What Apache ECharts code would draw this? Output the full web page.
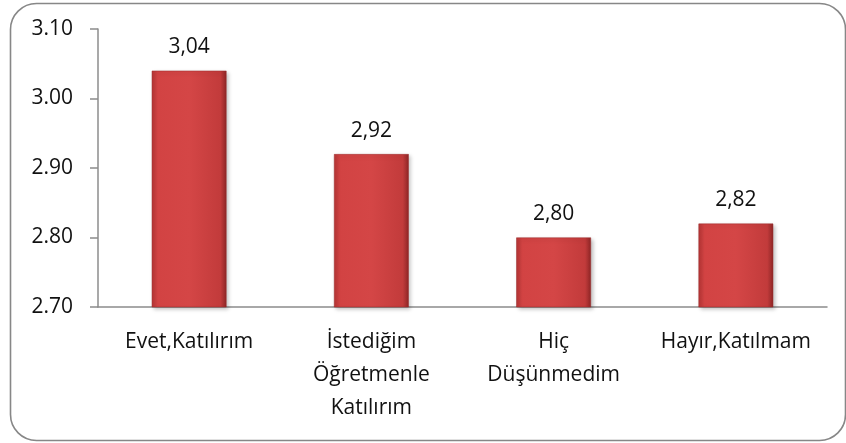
<!DOCTYPE html>
<html><head><meta charset="utf-8">
<script src="https://cdn.jsdelivr.net/npm/echarts@6/dist/echarts.min.js"></script>
<style>html,body{margin:0;padding:0;background:#fff}#c{width:846px;height:443px}</style>
</head><body><div id="c"></div>
<script>
const categories = ['Evet,Katılırım', 'İstediğim\nÖğretmenle\nKatılırım', 'Hiç\nDüşünmedim', 'Hayır,Katılmam'];
const values = [3.04, 2.92, 2.80, 2.82];
const yTicks = [2.70, 2.80, 2.90, 3.00, 3.10];

const chart = echarts.init(document.getElementById('c'));
const font = '"Open Sans", "Liberation Sans", sans-serif';
chart.setOption({
  animation: false,
  graphic: [{
    type: 'rect', left: 8, top: 1,
    shape: { width: 835, height: 437, r: 26 },
    style: { fill: 'none', stroke: '#878787', lineWidth: 1.6 }
  }],
  grid: { left: 98, right: 19, top: 29, bottom: 136 },
  xAxis: {
    type: 'category', data: categories,
    axisLine: { lineStyle: { color: '#8c8c8c', width: 1.5 } },
    axisTick: { length: 7, lineStyle: { color: '#8c8c8c', width: 1.5 } },
    axisLabel: { color: '#111', fontFamily: font, fontSize: 21, lineHeight: 33, margin: 19, interval: 0 }
  },
  yAxis: {
    type: 'value', min: yTicks[0], max: yTicks[yTicks.length - 1], interval: 0.1,
    splitLine: { show: false },
    axisLine: { show: true, lineStyle: { color: '#8c8c8c', width: 1.5 } },
    axisTick: { show: true, length: 8, lineStyle: { color: '#8c8c8c', width: 1.5 } },
    axisLabel: { color: '#111', fontFamily: font, fontSize: 21, margin: 25, formatter: v => v.toFixed(2) }
  },
  series: [{
    type: 'bar', data: values, barWidth: '41%',
    itemStyle: {
      color: new echarts.graphic.LinearGradient(0, 0, 1, 0, [
        { offset: 0, color: '#b53535' },
        { offset: 0.08, color: '#d24343' },
        { offset: 0.5, color: '#d44646' },
        { offset: 0.92, color: '#c23b3b' },
        { offset: 1, color: '#8e2626' }
      ]),
      borderColor: '#9a2b2b', borderWidth: 0.5,
      shadowColor: 'rgba(0,0,0,0.25)', shadowBlur: 4, shadowOffsetX: 2, shadowOffsetY: 2
    },
    label: {
      show: true, position: 'top', distance: 13, color: '#111', fontFamily: font, fontSize: 21,
      formatter: p => p.value.toFixed(2).replace('.', ',')
    }
  }]
});
</script></body></html>
